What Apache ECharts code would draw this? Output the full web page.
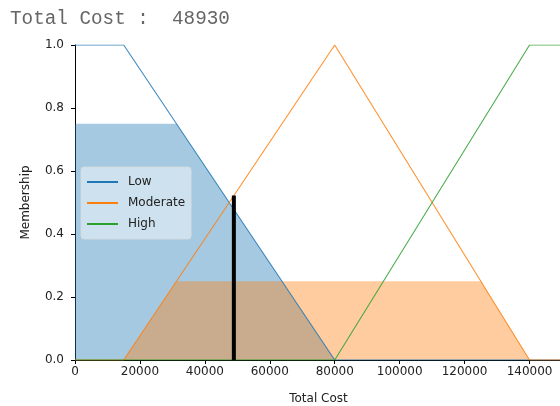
<!DOCTYPE html>
<html>
<head>
<meta charset="utf-8">
<script src="https://cdn.jsdelivr.net/npm/echarts@6/dist/echarts.min.js"></script>
<style>
  html, body { margin: 0; padding: 0; background: #fff; }
  #chart { width: 560px; height: 406px; }
</style>
</head>
<body>
<div id="chart"></div>
<script>
// Membership functions of the "Total Cost" fuzzy variable (breakpoints)
const lowX = [0, 15000, 80000, 150000];
const lowY = [1, 1, 0, 0];
const moderateX = [0, 15000, 80000, 140000, 150000];
const moderateY = [0, 0, 1, 0, 0];
const highX = [0, 80000, 140000, 150000];
const highY = [0, 0, 1, 1];

// Activated (clipped) regions
const lowClipX = [0, 31250, 80000, 150000];
const lowClipY = [0.75, 0.75, 0, 0];
const moderateClipX = [0, 15000, 31250, 125000, 140000, 150000];
const moderateClipY = [0, 0, 0.25, 0.25, 0, 0];

// Crisp output and its membership level
const totalCost = 48930;
const totalCostLevel = 0.522;

const xTicks = [0, 20000, 40000, 60000, 80000, 100000, 120000, 140000];
const yTicks = [0, 0.2, 0.4, 0.6, 0.8, 1.0];

const names = ['Low', 'Moderate', 'High'];
const colors = ['#1f77b4', '#ff7f0e', '#2ca02c'];

const pts = (xs, ys) => xs.map((x, i) => [x, ys[i]]);

const chart = echarts.init(document.getElementById('chart'), null, { renderer: 'canvas' });

const lineSeries = (name, xs, ys, color) => ({
  name, type: 'line', data: pts(xs, ys), symbol: 'none', z: 3,
  lineStyle: { color, width: 1.1, opacity: 0.85 }, itemStyle: { color }, animation: false
});
const fillSeries = (xs, ys, color) => ({
  type: 'line', data: pts(xs, ys), symbol: 'none', z: 2,
  lineStyle: { width: 0 }, areaStyle: { color, opacity: 0.4 }, animation: false, silent: true
});

chart.setOption({
  animation: false,
  title: {
    text: 'Total Cost :  ' + totalCost,
    left: 5, top: 4,
    textStyle: { fontFamily: 'Liberation Mono', fontSize: 19.3, fontWeight: 'normal', color: '#666' }
  },
  grid: { left: 75, right: -2, top: 45, bottom: 46, containLabel: false, outerBoundsMode: 'none' },
  legend: {
    data: names,
    orient: 'vertical', left: 81, top: 167,
    width: 122,
    itemWidth: 31, itemHeight: 2, itemGap: 9,
    icon: 'rect',
    padding: [9, 6, 9, 6],
    backgroundColor: 'rgba(255,255,255,0.45)',
    borderColor: 'rgba(220,220,220,0.8)', borderWidth: 1, borderRadius: 3,
    textStyle: { fontFamily: 'DejaVu Sans', fontSize: 12, color: '#222', padding: [0, 0, 0, 5], width: 80 }
  },
  xAxis: {
    type: 'value', min: 0, max: 150000, interval: 20000,
    name: 'Total Cost', nameLocation: 'middle', nameGap: 33,
    nameTextStyle: { fontFamily: 'DejaVu Sans', fontSize: 12, color: '#222' },
    axisLine: { show: true, onZero: false, lineStyle: { color: '#000', width: 1 } },
    axisTick: { show: true, inside: false, length: 4, lineStyle: { color: '#000' },
      customValues: xTicks },
    axisLabel: { fontFamily: 'DejaVu Sans', fontSize: 12, color: '#222', margin: 6,
      customValues: xTicks, showMaxLabel: true, hideOverlap: false, formatter: v => String(v) },
    splitLine: { show: false }
  },
  yAxis: {
    type: 'value', min: 0, max: 1, interval: 0.2,
    name: 'Membership', nameLocation: 'middle', nameGap: 43,
    nameTextStyle: { fontFamily: 'DejaVu Sans', fontSize: 12, color: '#222' },
    axisLine: { show: true, lineStyle: { color: '#000', width: 1 } },
    axisTick: { show: true, inside: false, length: 4, lineStyle: { color: '#000' },
      customValues: yTicks },
    axisLabel: { fontFamily: 'DejaVu Sans', fontSize: 12, color: '#222', margin: 11,
      customValues: yTicks, formatter: v => v.toFixed(1) },
    splitLine: { show: false }
  },
  series: [
    lineSeries('Low', lowX, lowY, colors[0]),
    lineSeries('Moderate', moderateX, moderateY, colors[1]),
    lineSeries('High', highX, highY, colors[2]),
    fillSeries(lowClipX, lowClipY, colors[0]),
    fillSeries(moderateClipX, moderateClipY, colors[1]),
    {
      type: 'line', data: [[totalCost, 0], [totalCost, totalCostLevel]], symbol: 'none', z: 4,
      lineStyle: { color: '#000', width: 4 }, animation: false, silent: true
    }
  ]
});
</script>
</body>
</html>
